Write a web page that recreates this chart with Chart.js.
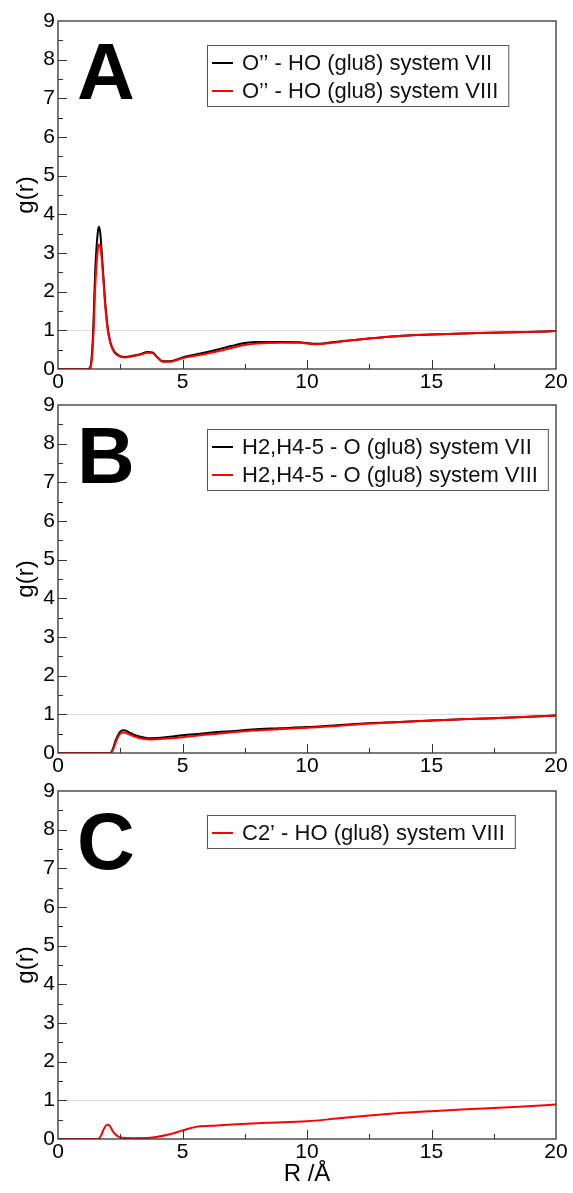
<!DOCTYPE html>
<html>
<head>
<meta charset="utf-8">
<script src="https://cdn.jsdelivr.net/npm/chart.js@4.4.0/dist/chart.umd.min.js"></script>
<style>
  html, body { margin: 0; padding: 0; background: #fff; }
  #wrap { position: relative; width: 573px; height: 1193px; overflow: hidden; }
  .panel { position: absolute; left: 0; width: 573px; }
</style>
</head>
<body>
<div id="wrap">
  <div class="panel" style="top:0;height:400px"><canvas id="chartA"></canvas></div>
  <div class="panel" style="top:384px;height:400px"><canvas id="chartB"></canvas></div>
  <div class="panel" style="top:770px;height:423px"><canvas id="chartC"></canvas></div>
</div>
<script>
// ── Data ─────────────────────────────────────────────────────
// Panel A: O'' - HO (glu8)
const rA   = [0, 1.2, 1.3, 1.4, 1.5, 1.6, 1.65, 1.7, 1.8, 1.9, 2.0, 2.1, 2.2, 2.3, 2.5, 2.7, 3.0, 3.3, 3.6, 3.8, 4.0, 4.2, 4.5, 5.0, 5.5, 6.0, 6.5, 7.0, 7.5, 8.0, 9.0, 9.7, 10.3, 11.0, 11.6, 12.5, 13.6, 15.0, 16.9, 18.8, 20.0];
const gA7  = [0, 0, 0.05, 0.8, 2.6, 3.55, 3.68, 3.5, 2.6, 1.7, 1.05, 0.7, 0.52, 0.42, 0.33, 0.31, 0.34, 0.38, 0.44, 0.43, 0.3, 0.2, 0.2, 0.3, 0.37, 0.44, 0.52, 0.6, 0.67, 0.7, 0.7, 0.69, 0.65, 0.69, 0.73, 0.79, 0.85, 0.89, 0.93, 0.955, 0.98];
const gA8  = [0, 0, 0.03, 0.6, 2.2, 3.1, 3.22, 3.18, 2.5, 1.6, 1.0, 0.68, 0.5, 0.4, 0.32, 0.3, 0.33, 0.37, 0.42, 0.41, 0.29, 0.19, 0.19, 0.28, 0.34, 0.4, 0.47, 0.55, 0.62, 0.66, 0.68, 0.68, 0.64, 0.68, 0.73, 0.79, 0.85, 0.89, 0.93, 0.955, 0.98];

// Panel B: H2,H4-5 - O (glu8)
const rB   = [0, 2.1, 2.2, 2.3, 2.4, 2.5, 2.6, 2.7, 2.9, 3.1, 3.4, 3.7, 4.0, 4.5, 5.0, 5.7, 6.4, 7.1, 7.8, 8.9, 10.0, 11.2, 12.5, 13.7, 15.0, 16.2, 17.5, 18.7, 20.0];
const gB7  = [0, 0, 0.1, 0.3, 0.45, 0.55, 0.59, 0.58, 0.52, 0.46, 0.41, 0.38, 0.39, 0.42, 0.46, 0.5, 0.54, 0.57, 0.61, 0.64, 0.67, 0.72, 0.77, 0.8, 0.84, 0.87, 0.9, 0.93, 0.97];
const gB8  = [0, 0, 0.07, 0.25, 0.4, 0.5, 0.53, 0.52, 0.47, 0.42, 0.37, 0.35, 0.36, 0.38, 0.41, 0.46, 0.5, 0.54, 0.58, 0.62, 0.65, 0.7, 0.76, 0.8, 0.84, 0.87, 0.9, 0.93, 0.97];

// Panel C: C2' - HO (glu8)
const rC   = [0, 1.6, 1.7, 1.8, 1.9, 2.0, 2.1, 2.2, 2.35, 2.6, 3.0, 3.7, 4.0, 4.4, 4.8, 5.2, 5.6, 6.4, 7.4, 8.4, 10.0, 11.2, 12.5, 13.7, 15.0, 16.2, 17.5, 18.7, 20.0];
const gC8  = [0, 0, 0.05, 0.2, 0.33, 0.37, 0.32, 0.2, 0.09, 0.03, 0.02, 0.03, 0.06, 0.11, 0.18, 0.26, 0.32, 0.35, 0.39, 0.42, 0.46, 0.53, 0.61, 0.67, 0.72, 0.76, 0.8, 0.84, 0.89];

const yTicks = [0, 1, 2, 3, 4, 5, 6, 7, 8, 9];
const xTicks = [0, 5, 10, 15, 20];

const FONT = '"Liberation Sans", Arial, Helvetica, sans-serif';
const BLACK = '#000000';
const RED = '#ff0000';
const PLOT_TOP = 21, PLOT_BOTTOM = 369, PLOT_LEFT = 58, PLOT_RIGHT_PAD = 17;

const pts = (xs, ys) => xs.map((x, i) => ({ x, y: ys[i] }));

// ── Grace-style decorations: ref line, inward ticks, frame, letter, legend ──
const gracePlugin = {
  id: 'grace',
  beforeDatasetsDraw(chart) {
    const { ctx, chartArea: a, scales: { y } } = chart;
    const y1 = Math.round(y.getPixelForValue(1)) + 0.5;
    ctx.save();
    ctx.strokeStyle = '#dedede';
    ctx.lineWidth = 1;
    ctx.beginPath(); ctx.moveTo(a.left, y1); ctx.lineTo(a.right, y1); ctx.stroke();
    ctx.restore();
  },
  afterDraw(chart, args, opts) {
    const { ctx, chartArea: a, scales: { x, y } } = chart;
    ctx.save();
    ctx.strokeStyle = '#333';
    ctx.lineWidth = 1;
    // y ticks (major every 1, minor every 0.5), pointing inward
    for (let v = 0.5; v < 9; v += 0.5) {
      const py = Math.round(y.getPixelForValue(v)) + 0.5;
      const len = Number.isInteger(v) ? 9 : 5;
      ctx.beginPath(); ctx.moveTo(a.left, py); ctx.lineTo(a.left + len, py); ctx.stroke();
    }
    // x ticks (major every 5, minor every 2.5)
    for (let v = 2.5; v < 20; v += 2.5) {
      const px = Math.round(x.getPixelForValue(v)) + 0.5;
      const len = v % 5 === 0 ? 9 : 5;
      ctx.beginPath(); ctx.moveTo(px, a.bottom); ctx.lineTo(px, a.bottom - len); ctx.stroke();
    }
    // frame
    ctx.lineWidth = 1.3;
    ctx.strokeRect(a.left, a.top, a.right - a.left, a.bottom - a.top);

    // big panel letter
    ctx.fillStyle = '#000';
    ctx.font = `bold 80px ${FONT}`;
    ctx.textBaseline = 'alphabetic';
    ctx.textAlign = 'left';
    ctx.fillText(opts.letter, a.left + 19, a.top + 78);

    // legend box
    const items = chart.data.datasets.map(d => ({ label: d.label, color: d.borderColor }));
    ctx.font = `22px ${FONT}`;
    const bx = a.left + 149, by = a.top + 24, rowH = 28;
    const tx = bx + 35;
    const tw = Math.max(...items.map(i => ctx.measureText(i.label).width));
    const bw = tx - bx + tw + 10, bh = 5 + items.length * rowH;
    ctx.fillStyle = '#fff';
    ctx.fillRect(bx, by, bw, bh);
    ctx.strokeStyle = '#555';
    ctx.lineWidth = 1;
    ctx.strokeRect(bx + 0.5, by + 0.5, bw, bh);
    ctx.textBaseline = 'middle';
    items.forEach((it, i) => {
      const cy = by + 18 + i * rowH;
      ctx.strokeStyle = it.color;
      ctx.lineWidth = 2;
      ctx.beginPath(); ctx.moveTo(bx + 5, cy); ctx.lineTo(bx + 26, cy); ctx.stroke();
      ctx.fillStyle = '#111';
      ctx.fillText(it.label, tx, cy + 1);
    });
    ctx.restore();
  }
};

function makePanel(id, letter, datasets, showXTitle) {
  const el = document.getElementById(id);
  const H = el.parentElement.clientHeight;
  return new Chart(el, {
    type: 'line',
    data: { datasets },
    plugins: [gracePlugin],
    options: {
      responsive: true,
      maintainAspectRatio: false,
      animation: false,
      layout: { padding: { top: PLOT_TOP, right: PLOT_RIGHT_PAD, left: 0, bottom: 0 } },
      elements: { point: { radius: 0 }, line: { borderWidth: 2, cubicInterpolationMode: 'monotone' } },
      plugins: { legend: { display: false }, tooltip: { enabled: false }, grace: { letter } },
      scales: {
        x: {
          type: 'linear', min: 0, max: 20,
          grid: { display: false, drawTicks: false },
          border: { display: false },
          afterBuildTicks: s => { s.ticks = xTicks.map(v => ({ value: v })); },
          ticks: { color: '#000', padding: 1, maxRotation: 0, font: { family: FONT, size: 21 } },
          title: { display: showXTitle, text: 'R /Å', color: '#000', padding: { top: 0, bottom: 4 }, font: { family: FONT, size: 24 } },
          afterFit: s => { s.height = H - PLOT_BOTTOM; s.paddingLeft = 0; s.paddingRight = 0; },
        },
        y: {
          min: 0, max: 9,
          grid: { display: false, drawTicks: false },
          border: { display: false },
          afterBuildTicks: s => { s.ticks = yTicks.map(v => ({ value: v })); },
          ticks: { color: '#000', padding: 3, font: { family: FONT, size: 21 } },
          title: { display: true, text: 'g(r)', color: '#000', padding: { top: 12, bottom: 0 }, font: { family: FONT, size: 24 } },
          afterFit: s => { s.width = PLOT_LEFT; s.paddingTop = 0; s.paddingBottom = 0; },
        },
      },
    },
  });
}

makePanel('chartA', 'A', [
  { label: 'O’’ - HO (glu8) system VII',  data: pts(rA, gA7), borderColor: BLACK, order: 1 },
  { label: 'O’’ - HO (glu8) system VIII', data: pts(rA, gA8), borderColor: RED,   order: 0 },
], false);

makePanel('chartB', 'B', [
  { label: 'H2,H4-5 - O (glu8) system VII',  data: pts(rB, gB7), borderColor: BLACK, order: 1 },
  { label: 'H2,H4-5 - O (glu8) system VIII', data: pts(rB, gB8), borderColor: RED,   order: 0 },
], false);

makePanel('chartC', 'C', [
  { label: 'C2’ - HO (glu8) system VIII', data: pts(rC, gC8), borderColor: RED },
], true);
</script>
</body>
</html>
